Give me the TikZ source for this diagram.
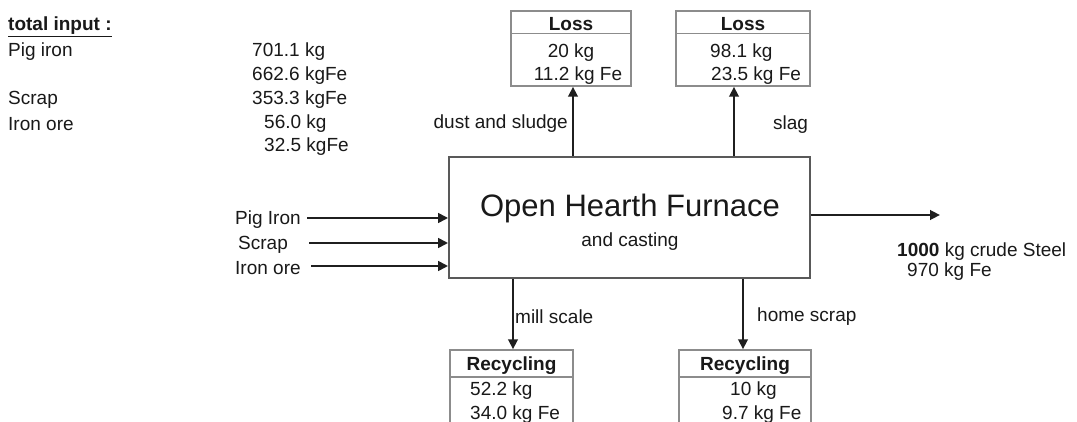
\documentclass[tikz,border=0pt]{standalone}
\usepackage{fontspec}
\setmainfont{Liberation Sans}
\usetikzlibrary{arrows.meta,calc}
\tikzset{
  lbl/.style={inner sep=0pt, yshift=-1.8pt, font=\fontsize{19}{23}\selectfont, text=black!90},
  hdr/.style={lbl, font=\fontsize{19}{23}\selectfont\bfseries},
  bx/.style={draw=black!45, line width=1.5pt, inner sep=0pt},
  furn/.style={draw=black!65, line width=1.7pt, inner sep=0pt, minimum width=361pt, minimum height=121pt},
  arr/.style={draw=black!88, line width=2.6pt, -{Triangle[length=10pt,width=9.5pt]}},
  thin/.style={draw=black!45, line width=1.5pt}
}
\begin{document}
\begin{tikzpicture}[x=1pt,y=-1pt]
\useasboundingbox (0,0) rectangle (1077,422);
\clip (0,0) rectangle (1077,422);
\fill[white] (0,0) rectangle (1077,422);

% total input table
\node[hdr, anchor=west] (ti) at (8,25) {\underline{total input :}};
\node[lbl, anchor=west] (t1) at (8,49.5) {Pig iron};
\node[lbl, anchor=west] (t2) at (8,98) {Scrap};
\node[lbl, anchor=west] (t3) at (8,122) {Iron ore};
\node[lbl, anchor=west] (v1) at (252,49.5) {701.1 kg};
\node[lbl, anchor=west] (v2) at (252,73.5) {662.6 kgFe};
\node[lbl, anchor=west] (v3) at (252,98) {353.3 kgFe};
\node[lbl, anchor=west] (v4) at (264,122) {56.0 kg};
\node[lbl, anchor=west] (v5) at (264,145) {32.5 kgFe};

% furnace
\node[furn] (F) at (629.5,217.5) {};
\node[lbl, font=\fontsize{31}{36}\selectfont] (Ft) at (630,207) {Open Hearth Furnace};
\node[lbl] (Fs) at (630,240) {and casting};

% loss boxes
\node[bx, minimum width=120pt, minimum height=75pt] (L1) at (571,48.5) {};
\draw[thin] (L1.west |- 0,33.5) -- (L1.east |- 0,33.5);
\node[hdr] (L1h) at (571,22) {Loss};
\node[lbl] (L1a) at (571,51) {20 kg};
\node[lbl] (L1b) at (578,74) {11.2 kg Fe};

\node[bx, minimum width=134pt, minimum height=75pt] (L2) at (743,48.5) {};
\draw[thin] (L2.west |- 0,33.5) -- (L2.east |- 0,33.5);
\node[hdr] (L2h) at (743,22) {Loss};
\node[lbl, anchor=west] (L2a) at (710,51) {98.1 kg};
\node[lbl, anchor=west] (L2b) at (711,74) {23.5 kg Fe};

% recycling boxes
\node[bx, minimum width=123pt, minimum height=100pt] (R1) at (511.5,400) {};
\draw[thin] (R1.west |- 0,377) -- (R1.east |- 0,377);
\node[hdr] (R1h) at (511.5,364) {Recycling};
\node[lbl, anchor=west] (R1a) at (470,389) {52.2 kg};
\node[lbl, anchor=west] (R1b) at (470,413) {34.0 kg Fe};

\node[bx, minimum width=132pt, minimum height=100pt] (R2) at (745,400) {};
\draw[thin] (R2.west |- 0,377) -- (R2.east |- 0,377);
\node[hdr] (R2h) at (745,364) {Recycling};
\node[lbl, anchor=west] (R2a) at (730,389) {10 kg};
\node[lbl, anchor=west] (R2b) at (722,413) {9.7 kg Fe};

% arrows up
\draw[arr] (F.north -| 573,0) -- (L1.south -| 573,0);
\draw[arr] (F.north -| 734,0) -- (L2.south -| 734,0);
\node[lbl, anchor=east] (ds) at (568,122) {dust and sludge};
\node[lbl, anchor=west] (sl) at (773,123) {slag};

% arrows down
\draw[arr] (F.south -| 513,0) -- (R1.north -| 513,0);
\draw[arr] (F.south -| 743,0) -- (R2.north -| 743,0);
\node[lbl, anchor=west] (ms) at (515,315) {mill scale};
\node[lbl, anchor=west] (hs) at (757,315) {home scrap};

% inputs
\node[lbl, anchor=west] (i1) at (235,218) {Pig Iron};
\node[lbl, anchor=west] (i2) at (238,243) {Scrap};
\node[lbl, anchor=west] (i3) at (235,266) {Iron ore};
\draw[arr] (307,218) coordinate (a1) -- (a1 -| F.west);
\draw[arr] (309,243) coordinate (a2) -- (a2 -| F.west);
\draw[arr] (311,266) coordinate (a3) -- (a3 -| F.west);

% output
\coordinate (out) at (940,215);
\draw[arr] (F.east |- out) -- (out);
\node[lbl, anchor=west] (o1) at (897,250) {\textbf{1000} kg crude Steel};
\node[lbl, anchor=west] (o2) at (907,270) {970 kg Fe};
\end{tikzpicture}
\end{document}
